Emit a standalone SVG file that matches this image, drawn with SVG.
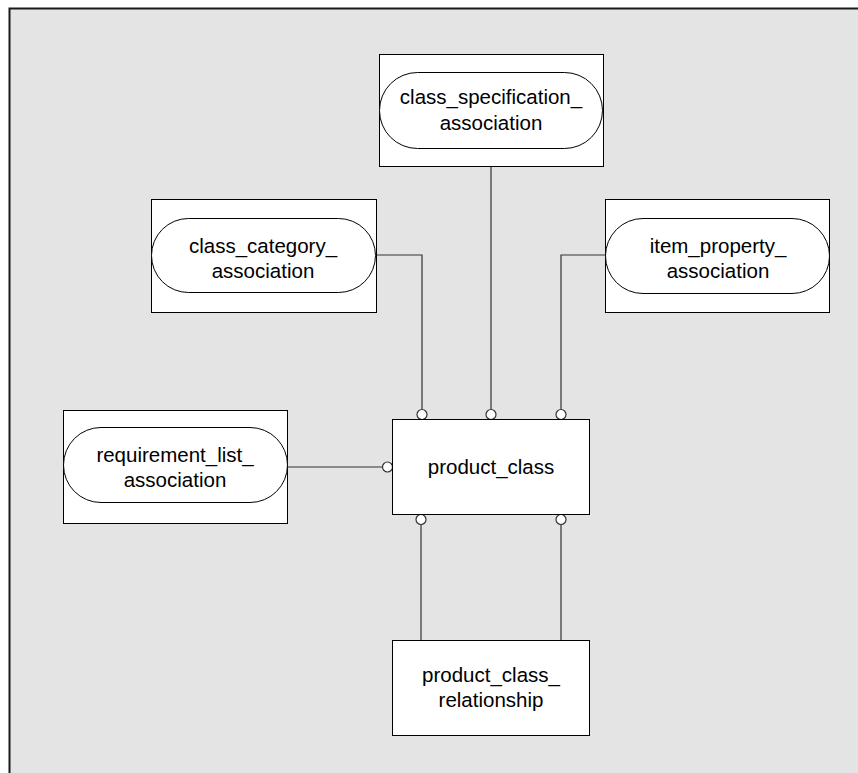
<svg xmlns="http://www.w3.org/2000/svg" width="858" height="773" viewBox="0 0 858 773">
  <style>
    .box { fill: #ffffff; stroke: #000000; stroke-width: 1; }
    .pill { fill: #ffffff; stroke: #000000; stroke-width: 1; }
    .lbl { font-family: "Liberation Sans", Arial, sans-serif; font-size: 20.5px; fill: #000000; text-anchor: middle; }
    .conn { fill: none; stroke: #333333; stroke-width: 1.2; }
    .end { fill: #ffffff; stroke: #333333; stroke-width: 1.2; }
  </style>

  <!-- page frame -->
  <rect x="0" y="0" width="858" height="773" fill="#ffffff"/>
  <rect x="9" y="9" width="849" height="764" fill="#e4e4e4"/>
  <path d="M9.5,773 V8.5 H858" fill="none" stroke="#1a1a1a" stroke-width="2"/>

  <g id="connectors">
    <path class="conn" d="M491,166 V409"/>
    <path class="conn" d="M376,255 H422 V409"/>
    <path class="conn" d="M606,255 H561 V409"/>
    <path class="conn" d="M287,467 H382"/>
    <path class="conn" d="M421,525 V641"/>
    <path class="conn" d="M561,525 V641"/>
    <circle class="end" cx="422" cy="414.5" r="5"/>
    <circle class="end" cx="491" cy="414.5" r="5"/>
    <circle class="end" cx="561" cy="414.5" r="5"/>
    <circle class="end" cx="387.5" cy="467" r="5"/>
    <circle class="end" cx="421" cy="519.5" r="5"/>
    <circle class="end" cx="561" cy="519.5" r="5"/>
  </g>

  <g id="class_specification_association">
    <rect class="box" x="379.5" y="54.5" width="224" height="112"/>
    <rect class="pill" x="379.5" y="72.5" width="223" height="76" rx="38" ry="38"/>
    <text class="lbl" x="491" y="104">class_specification_</text>
    <text class="lbl" x="491" y="130">association</text>
  </g>

  <g id="class_category_association">
    <rect class="box" x="151.5" y="199.5" width="225" height="113"/>
    <rect class="pill" x="151.5" y="218.5" width="224" height="74" rx="37" ry="37"/>
    <text class="lbl" x="263" y="253">class_category_</text>
    <text class="lbl" x="263" y="278">association</text>
  </g>

  <g id="item_property_association">
    <rect class="box" x="605.5" y="199.5" width="224" height="113"/>
    <rect class="pill" x="605.5" y="218.5" width="224" height="75" rx="37.5" ry="37.5"/>
    <text class="lbl" x="718" y="253">item_property_</text>
    <text class="lbl" x="718" y="278">association</text>
  </g>

  <g id="requirement_list_association">
    <rect class="box" x="63.5" y="410.5" width="224" height="113"/>
    <rect class="pill" x="63.5" y="427.5" width="224" height="75" rx="37.5" ry="37.5"/>
    <text class="lbl" x="175" y="462">requirement_list_</text>
    <text class="lbl" x="175" y="487">association</text>
  </g>

  <g id="product_class">
    <rect class="box" x="392.5" y="419.5" width="197" height="95"/>
    <text class="lbl" x="491" y="474">product_class</text>
  </g>

  <g id="product_class_relationship">
    <rect class="box" x="392.5" y="640.5" width="197" height="95"/>
    <text class="lbl" x="491" y="682">product_class_</text>
    <text class="lbl" x="491" y="707">relationship</text>
  </g>
</svg>
